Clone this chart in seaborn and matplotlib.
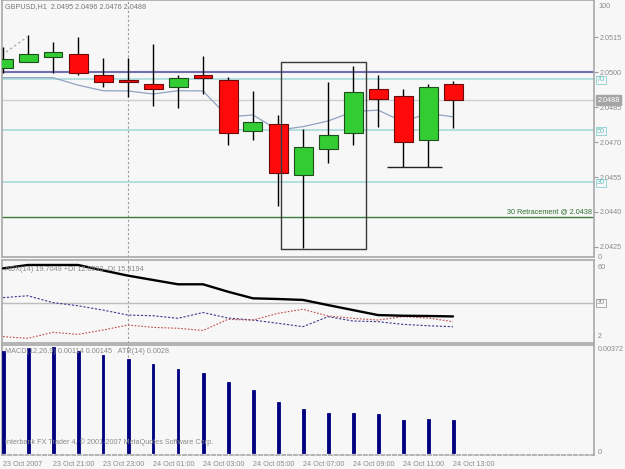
import numpy as np
import pandas as pd
import matplotlib
matplotlib.use("Agg")
import matplotlib.pyplot as plt
import matplotlib.transforms as mtrans
import seaborn as sns

# ---------------- data ----------------
time_labels = ["23 Oct 2007", "23 Oct 21:00", "23 Oct 23:00", "24 Oct 01:00", "24 Oct 03:00",
               "24 Oct 05:00", "24 Oct 07:00", "24 Oct 09:00", "24 Oct 11:00", "24 Oct 13:00"]
opens  = [2.05017, 2.05044, 2.05066, 2.05077, 2.04987, 2.04966, 2.04947, 2.04934, 2.04987, 2.04966,
          2.04748, 2.04777, 2.04557, 2.04669, 2.04737, 2.04926, 2.04896, 2.04709, 2.0495]
highs  = [2.05107, 2.05159, 2.05127, 2.05149, 2.05059, 2.05059, 2.05120, 2.04987, 2.05069, 2.04980,
          2.04919, 2.04816, 2.04756, 2.04956, 2.05027, 2.04987, 2.04926, 2.04947, 2.0496]
lows   = [2.04996, 2.05043, 2.04997, 2.04987, 2.04934, 2.04894, 2.04854, 2.04844, 2.04906, 2.04687,
          2.04709, 2.04426, 2.04244, 2.04609, 2.04687, 2.04763, 2.04594, 2.04594, 2.0476]
closes = [2.05056, 2.05077, 2.05087, 2.04997, 2.04956, 2.04956, 2.04926, 2.04976, 2.04976, 2.04737,
          2.04784, 2.04568, 2.04677, 2.04729, 2.04916, 2.04886, 2.04699, 2.04934, 2.0488]
ma_values = [2.04976, 2.04976, 2.04976, 2.04944, 2.04920, 2.04919, 2.04906, 2.04920, 2.04919, 2.04808,
             2.04816, 2.04751, 2.04766, 2.04790, 2.04830, 2.04837, 2.04787, 2.04823, 2.04808]
adx_values = [55.3, 57.8, 57.8, 57.8, 53.8, 49.9, 46.7, 43.5, 43.5, 38.0,
              33.1, 32.6, 31.9, 28.1, 24.4, 20.7, 20.2, 20.0, 19.7]
plus_di = [33.6, 35.0, 29.9, 27.6, 24.4, 20.7, 20.2, 18.3, 22.6, 18.5,
           17.0, 14.6, 12.1, 19.5, 16.3, 15.8, 13.8, 12.8, 12.06]
minus_di = [4.7, 3.5, 7.9, 6.4, 9.6, 13.3, 11.6, 10.9, 9.3, 17.5,
            17.0, 22.0, 25.0, 20.0, 18.3, 17.0, 19.5, 18.5, 15.8]
macd_values = [0.00356, 0.00365, 0.00369, 0.00356, 0.00342, 0.00327, 0.00309, 0.00293, 0.00280, 0.00249,
               0.00220, 0.00179, 0.00153, 0.00138, 0.00138, 0.00136, 0.00115, 0.00118, 0.00114]
price_ticks = [2.0515, 2.0500, 2.0485, 2.0470, 2.0455, 2.0440, 2.0425]
fib_levels = [2.0497, 2.04751, 2.04529]
fib_labels = ["70", "50", "30"]
resistance_level = 2.0500
current_price = 2.0488
retracement_level = 2.0438
support_x = [15.36, 17.56]
support_y = 2.04594
box_x = [11.1, 14.52]
box_y = [2.0424, 2.05044]
trend_x = [-0.04, 0.96]
trend_y = [2.05073, 2.0515]
separator_x = 4.98

n = len(opens)
idx = np.arange(n)
df = pd.DataFrame({"i": idx, "open": opens, "high": highs, "low": lows, "close": closes,
                   "ma": ma_values, "adx": adx_values, "pdi": plus_di, "mdi": minus_di,
                   "macd": macd_values})

# ---------------- style ----------------
sns.set_style("white")
plt.rcParams["font.family"] = ["Liberation Sans", "DejaVu Sans"]
BG = "#F7F7F7"
GRAY = "#8A8A8A"
FS = 5.2

W, H = 625, 469
fig = plt.figure(figsize=(W / 100, H / 100), dpi=100, facecolor=BG)

def px_axes(x0, y0, x1, y1):
    return fig.add_axes([x0 / W, 1 - y1 / H, (x1 - x0) / W, (y1 - y0) / H])

ax1 = px_axes(2, 0, 594, 257)
ax2 = px_axes(2, 260, 594, 343)
ax3 = px_axes(2, 345, 594, 455)
XL = (-0.04, 23.64)

for ax in (ax1, ax2, ax3):
    ax.set_facecolor(BG)
    ax.set_xlim(*XL)
    for s in ax.spines.values():
        s.set_color("#A8A8A8")
        s.set_linewidth(1.2)
    ax.axvline(separator_x, color="#9A9A9A", lw=0.8, ls=(0, (2, 2)), zorder=1)

# ---------------- main panel ----------------
ax1.set_ylim(2.04207, 2.05309)
ax1.axhline(resistance_level, color="#7070B0", lw=1.5, zorder=2)
for lv in fib_levels:
    ax1.axhline(lv, color="#A8DADA", lw=1.2, zorder=2)
ax1.axhline(current_price, color="#CFCFCF", lw=1.0, zorder=2)
ax1.axhline(retracement_level, color="#3A7A3A", lw=1.0, zorder=2)
ax1.text(0.997, retracement_level + 0.00004, "30 Retracement @ 2.0438", color="#2E6E2E",
         fontsize=FS, ha="right", va="bottom",
         transform=mtrans.blended_transform_factory(ax1.transAxes, ax1.transData))

sns.lineplot(x=trend_x, y=trend_y, ax=ax1, color="#AAAAAA", lw=0.9, linestyle=(0, (2, 2)))
sns.lineplot(data=df, x="i", y="ma", ax=ax1, color="#8FA3C0", lw=0.9, zorder=3)

ax1.vlines(df["i"], df["low"], df["high"], color="black", lw=1.0, zorder=4)
up = df["close"] >= df["open"]
body_bottom = np.minimum(df["open"], df["close"])
body_h = np.maximum(np.abs(df["close"] - df["open"]), 0.00002)
ax1.bar(df["i"][up], body_h[up], bottom=body_bottom[up], width=0.76,
        color="#33CC33", edgecolor="#1E4E1E", lw=0.8, zorder=5)
ax1.bar(df["i"][~up], body_h[~up], bottom=body_bottom[~up], width=0.76,
        color="#FF0A0A", edgecolor="#6A0A0A", lw=0.8, zorder=5)

ax1.plot(box_x + box_x[::-1] + [box_x[0]], [box_y[0], box_y[0], box_y[1], box_y[1], box_y[0]],
         color="#3A3A3A", lw=1.0, zorder=6)
ax1.hlines(support_y, support_x[0], support_x[1], color="#222222", lw=1.0, zorder=6)

ax1.yaxis.tick_right()
ax1.set_yticks(price_ticks)
ax1.set_yticklabels([f"{t:.4f}" for t in price_ticks])
ax1.tick_params(axis="y", direction="out", length=3, width=0.8, color="#9A9A9A",
                labelsize=FS, labelcolor=GRAY, pad=1)
ax1.set_xticks([])
ax1.set_xlabel("")
ax1.set_ylabel("")

bt = mtrans.blended_transform_factory(ax1.transAxes, ax1.transData)
for lv, lb in zip(fib_levels, fib_labels):
    ax1.text(1.005, lv - 0.00004, lb, transform=bt, fontsize=FS, color="#66C0C0", va="center", ha="left",
             bbox=dict(boxstyle="square,pad=0.1", fc=BG, ec="#88D0D0", lw=0.6), clip_on=False, zorder=9)
ax1.text(1.006, current_price, f"{current_price:.4f}", transform=bt, fontsize=FS, color="white",
         va="center", ha="left", bbox=dict(boxstyle="square,pad=0.15", fc="#A5A5A5", ec="#A5A5A5"),
         clip_on=False, zorder=10)
fig.text(598 / W, 1 - 7 / H, "100", fontsize=FS, color=GRAY, va="center")
fig.text(598 / W, 1 - 257 / H, "0", fontsize=FS, color=GRAY, va="center")
fig.text(5 / W, 1 - 7 / H, "GBPUSD,H1  2.0495 2.0496 2.0476 2.0488", fontsize=FS, color="#777777",
         va="center")

# ---------------- ADX panel ----------------
ax2.set_ylim(0, 61.5)
ax2.axhline(30, color="#BDBDBD", lw=1.0, zorder=1)
sns.lineplot(data=df, x="i", y="adx", ax=ax2, color="black", lw=1.7, zorder=4)
sns.lineplot(data=df, x="i", y="pdi", ax=ax2, color="#3A3A90", lw=0.8, linestyle=(0, (2, 1.5)), zorder=3)
sns.lineplot(data=df, x="i", y="mdi", ax=ax2, color="#C04848", lw=0.8, linestyle=(0, (1.5, 1.5)), zorder=3)
ax2.set_xticks([]); ax2.set_yticks([])
ax2.set_xlabel(""); ax2.set_ylabel("")
fig.text(5 / W, 1 - 269 / H, "ADX(14) 19.7049 +DI 12.0593 -DI 15.8194", fontsize=FS, color="#8A8A8A",
         va="center")
fig.text(598 / W, 1 - 267 / H, "60", fontsize=FS, color=GRAY, va="center")
fig.text(597 / W, 1 - 303 / H, "30", fontsize=FS, color=GRAY, va="center",
         bbox=dict(boxstyle="square,pad=0.1", fc=BG, ec="#A0A0A0", lw=0.6))
fig.text(598 / W, 1 - 336 / H, "2", fontsize=FS, color=GRAY, va="center")

# ---------------- MACD panel ----------------
sns.barplot(data=df, x="i", y="macd", ax=ax3, native_scale=True, color="#000080",
            width=0.12, saturation=1, edgecolor="#000080", linewidth=0.6, zorder=3)
ax3.set_xlim(*XL)
ax3.set_ylim(-0.00007, 0.003766)
ax3.spines["bottom"].set_linestyle((0, (2, 1.5)))
ax3.set_yticks([])
ax3.set_xticks(idx[::2])
ax3.set_xticklabels(time_labels, ha="left")
ax3.tick_params(axis="x", direction="out", length=3, width=0.8, color="#9A9A9A",
                labelsize=FS, labelcolor=GRAY, pad=1.5)
ax3.set_xlabel(""); ax3.set_ylabel("")
fig.text(5 / W, 1 - 351 / H, "MACD(12,26,9) 0.00114 0.00145   ATR(14) 0.0028", fontsize=FS,
         color="#8A8A8A", va="center")
fig.text(5 / W, 1 - 442 / H, "Interbank FX Trader 4, \u00a9 2001-2007 MetaQuotes Software Corp.",
         fontsize=FS, color="#8A8A8A", va="center")
fig.text(598 / W, 1 - 349 / H, "0.00372", fontsize=FS, color=GRAY, va="center")
fig.text(598 / W, 1 - 452 / H, "0", fontsize=FS, color=GRAY, va="center")

fig.savefig("out.png", dpi=100, facecolor=BG)
